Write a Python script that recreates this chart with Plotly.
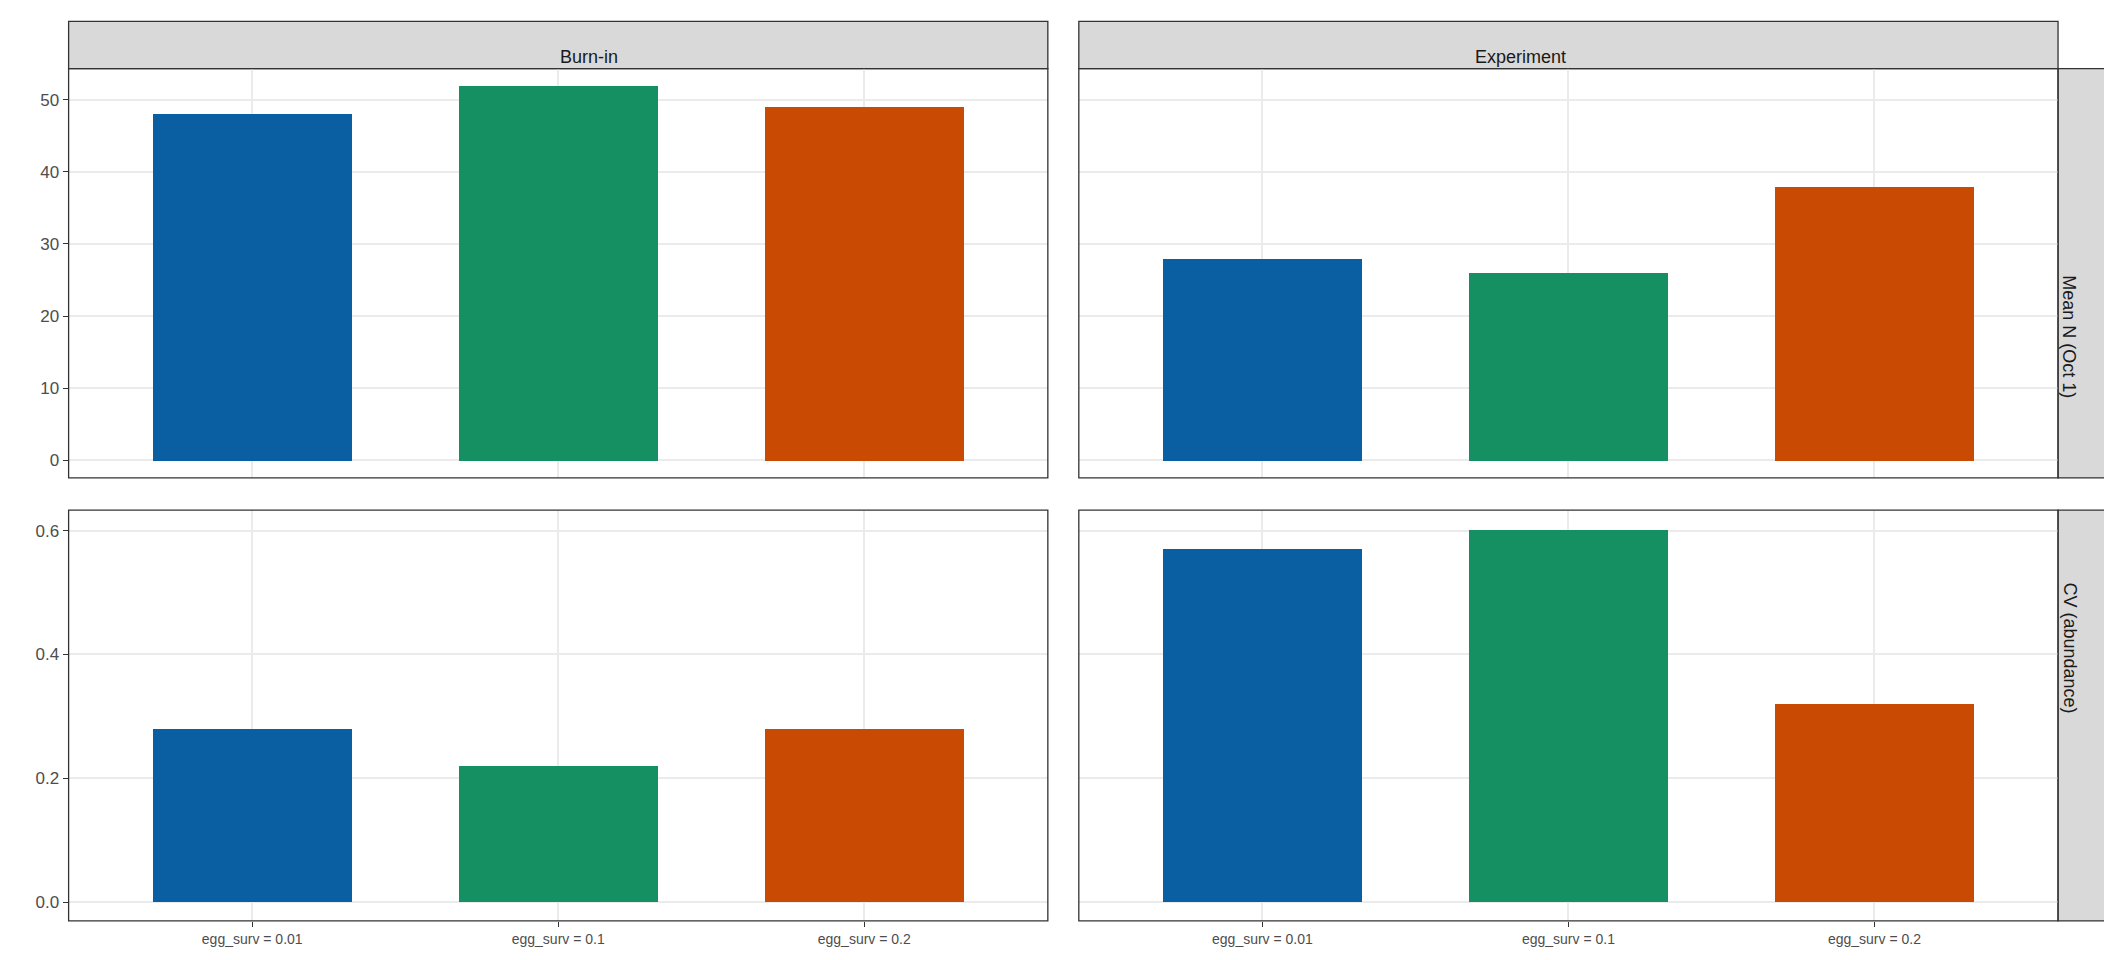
import plotly.graph_objects as go

categories = ["egg_surv = 0.01", "egg_surv = 0.1", "egg_surv = 0.2"]
colors = ["#0A5FA3", "#149063", "#C94A03"]
col_labels = ["Burn-in", "Experiment"]
row_labels = ["Mean N (Oct 1)", "CV (abundance)"]

mean_burnin = [48, 52, 49]
mean_experiment = [28, 26, 38]
cv_burnin = [0.28, 0.22, 0.28]
cv_experiment = [0.57, 0.60, 0.32]

W, H = 1568, 713
xd = [(45 / W, 772 / W), (795 / W, 1522 / W)]
yd = [(1 - 349 / H, 1 - 45 / H), (1 - 678 / H, 1 - 373 / H)]
strip_top = (1 - 45 / H, 1 - 10 / H)
strip_right = (1522 / W, 1557 / W)

font = "Liberation Sans, Arial, sans-serif"
fig = go.Figure()

panels = [
    (0, 0, mean_burnin), (0, 1, mean_experiment),
    (1, 0, cv_burnin), (1, 1, cv_experiment),
]
yranges = [[-2.43, 54.3], [-0.0304, 0.633]]
ytickvals = [[0, 10, 20, 30, 40, 50], [0.0, 0.2, 0.4, 0.6]]
yticktext = [["0", "10", "20", "30", "40", "50"], ["0.0", "0.2", "0.4", "0.6"]]

layout = {}
for i, (r, c, vals) in enumerate(panels):
    n = i + 1
    xa, ya = f"x{n}", f"y{n}"
    fig.add_trace(go.Bar(
        x=[0, 1, 2], y=vals, marker=dict(color=colors, line_width=0),
        width=0.65, xaxis=xa, yaxis=ya, showlegend=False,
    ))
    layout[f"xaxis{n}"] = dict(
        domain=xd[c], anchor=ya, range=[-0.6, 2.6],
        tickvals=[0, 1, 2], ticktext=categories,
        showticklabels=(r == 1), ticks="outside" if r == 1 else "",
        ticklen=5, tickcolor="#333333", tickwidth=1.3,
        showgrid=True, gridcolor="#EBEBEB", gridwidth=1.5,
        zeroline=False, showline=False,
        tickfont=dict(family=font, size=14, color="#4D4D4D"),
    )
    layout[f"yaxis{n}"] = dict(
        domain=yd[r], anchor=xa, range=yranges[r],
        tickvals=ytickvals[r], ticktext=yticktext[r],
        showticklabels=(c == 0), ticks="outside" if c == 0 else "",
        ticklen=5, tickcolor="#333333", tickwidth=1.3,
        showgrid=True, gridcolor="#EBEBEB", gridwidth=1.5,
        zeroline=False, showline=False,
        tickfont=dict(family=font, size=17, color="#4D4D4D"),
    )

shapes = []
annotations = []
for r in range(2):
    for c in range(2):
        shapes.append(dict(type="rect", xref="paper", yref="paper",
                           x0=xd[c][0], x1=xd[c][1], y0=yd[r][0], y1=yd[r][1],
                           line=dict(color="#333333", width=1.3), fillcolor="rgba(0,0,0,0)"))
for c in range(2):
    shapes.append(dict(type="rect", xref="paper", yref="paper",
                       x0=xd[c][0], x1=xd[c][1], y0=strip_top[0], y1=strip_top[1],
                       line=dict(color="#333333", width=1.3), fillcolor="#D9D9D9", layer="below"))
    annotations.append(dict(xref="paper", yref="paper", x=(xd[c][0] + xd[c][1]) / 2,
                            y=(strip_top[0] + strip_top[1]) / 2, text=col_labels[c],
                            showarrow=False, font=dict(family=font, size=18, color="#1A1A1A")))
for r in range(2):
    shapes.append(dict(type="rect", xref="paper", yref="paper",
                       x0=strip_right[0], x1=strip_right[1], y0=yd[r][0], y1=yd[r][1],
                       line=dict(color="#333333", width=1.3), fillcolor="#D9D9D9", layer="below"))
    annotations.append(dict(xref="paper", yref="paper", x=(strip_right[0] + strip_right[1]) / 2,
                            y=(yd[r][0] + yd[r][1]) / 2, text=row_labels[r], textangle=90,
                            showarrow=False, font=dict(family=font, size=18, color="#1A1A1A")))

fig.update_layout(
    **layout,
    shapes=shapes, annotations=annotations,
    width=2112, height=960,
    margin=dict(l=0, r=0, t=0, b=0),
    plot_bgcolor="white", paper_bgcolor="white",
    bargap=0,
)

fig.write_html("out.html")
